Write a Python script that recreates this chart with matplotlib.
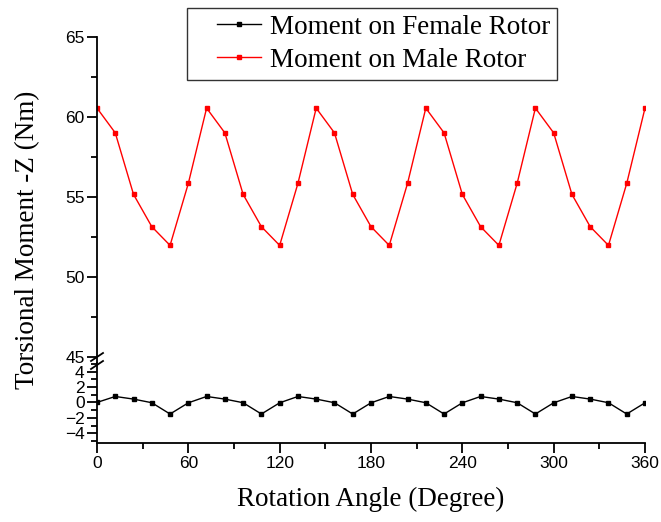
import numpy as np
import matplotlib
matplotlib.use("Agg")
import matplotlib.pyplot as plt
from matplotlib.lines import Line2D
from matplotlib.legend_handler import HandlerLine2D
from matplotlib.ticker import MultipleLocator

# rotation angle (degree), one marker every 12 degrees
angle = [0, 12, 24, 36, 48, 60, 72, 84, 96, 108, 120, 132, 144, 156, 168, 180,
         192, 204, 216, 228, 240, 252, 264, 276, 288, 300, 312, 324, 336, 348, 360]

# torsional moment on male rotor (Nm)
male = [60.55, 59.0, 55.15, 53.13, 51.96, 55.84,
        60.55, 59.0, 55.15, 53.13, 51.96, 55.84,
        60.55, 59.0, 55.15, 53.13, 51.96, 55.84,
        60.55, 59.0, 55.15, 53.13, 51.96, 55.84,
        60.55, 59.0, 55.15, 53.13, 51.96, 55.84,
        60.55]

# torsional moment on female rotor (Nm)
female = [0.0, 0.77, 0.43, -0.04, -1.5,
          -0.05, 0.77, 0.43, -0.04, -1.5,
          -0.05, 0.77, 0.43, -0.04, -1.5,
          -0.05, 0.77, 0.43, -0.04, -1.5,
          -0.05, 0.77, 0.43, -0.04, -1.5,
          -0.05, 0.77, 0.43, -0.04, -1.5,
          -0.05]

sans = 'Liberation Sans'
serif = 'Liberation Serif'

fig = plt.figure(figsize=(6.61, 5.22), dpi=100)

left, right = 97 / 661, 645 / 661
y_top, y_brk, y_bot = 1 - 37 / 522, 1 - 363 / 522, 1 - 443 / 522

ax_hi = fig.add_axes([left, y_brk, right - left, y_top - y_brk])
ax_lo = fig.add_axes([left, y_bot, right - left, y_brk - y_bot])

l_f, = ax_lo.plot(angle, female, color='black', lw=1, marker='s', ms=3,
                  label='Moment on Female Rotor')
l_m, = ax_hi.plot(angle, male, color='red', lw=1, marker='s', ms=3,
                  label='Moment on Male Rotor')

ax_hi.set_xlim(0, 360)
ax_lo.set_xlim(0, 360)
ax_hi.set_ylim(44.6, 65)
ax_lo.set_ylim(-5.25, 5.1)

ax_hi.set_yticks([45, 50, 55, 60, 65])
ax_hi.yaxis.set_minor_locator(MultipleLocator(2.5))
ax_lo.set_yticks([-4, -2, 0, 2, 4])
ax_lo.yaxis.set_minor_locator(MultipleLocator(1))
ax_lo.set_xticks([0, 60, 120, 180, 240, 300, 360])
ax_lo.xaxis.set_minor_locator(MultipleLocator(30))

for ax in (ax_hi, ax_lo):
    ax.spines['top'].set_visible(False)
    ax.spines['right'].set_visible(False)
    ax.spines['left'].set_linewidth(1.3)
    ax.spines['bottom'].set_linewidth(1.3)
    ax.tick_params(which='major', direction='out', length=7, width=1.3, pad=2)
    ax.tick_params(which='minor', direction='out', length=4, width=1.3)
    for lab in ax.get_yticklabels() + ax.get_xticklabels():
        lab.set_fontfamily(sans)
        lab.set_fontsize(12.5)

ax_hi.spines['bottom'].set_visible(False)
ax_hi.tick_params(axis='x', which='both', bottom=False, labelbottom=False)

ax_lo.set_xlabel('Rotation Angle (Degree)', family=serif, fontsize=19.5, labelpad=12)
fig.text(28 / 661, 1 - 240 / 522, 'Torsional Moment -Z (Nm)', family=serif,
         fontsize=19.5, rotation=90, ha='center', va='center')

# axis break marks
for yb in (357, 365):
    fig.add_artist(Line2D([91 / 661, 103 / 661], [1 - (yb + 4) / 522, 1 - (yb - 4) / 522],
                          transform=fig.transFigure, color='black', lw=1.3))

leg = fig.legend(handles=[l_f, l_m], loc='upper left',
                 bbox_to_anchor=(187 / 661, 1 - 8 / 522),
                 prop={'family': serif, 'size': 19.5}, frameon=True, fancybox=False,
                 edgecolor='black', handlelength=2.5, borderpad=0.25, labelspacing=0.3,
                 handletextpad=0.3, borderaxespad=0,
                 handler_map={Line2D: HandlerLine2D(xpad=0.85)})
leg.get_frame().set_linewidth(1.0)

fig.savefig('out.png', dpi=100)
